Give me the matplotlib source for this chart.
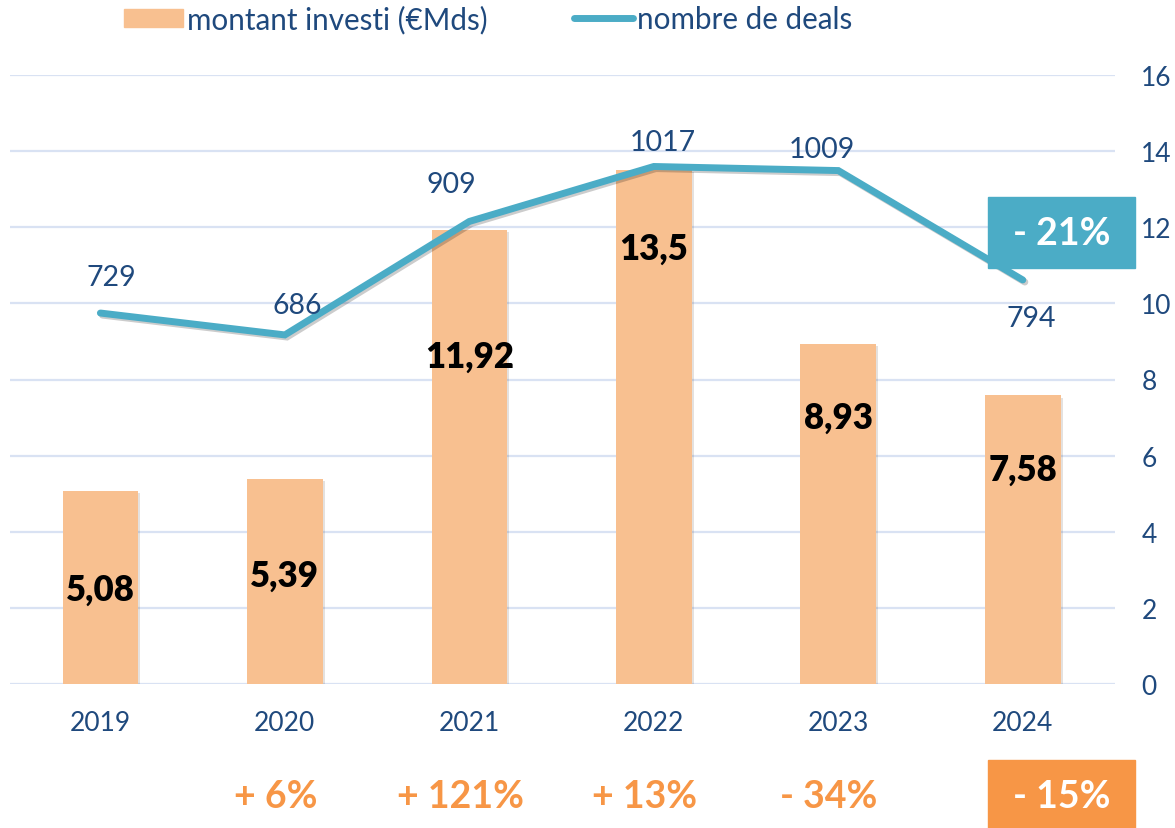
import matplotlib.pyplot as plt
import matplotlib.patheffects as pe
import matplotlib.transforms as mtransforms
from matplotlib.patches import Rectangle, Patch
from matplotlib.lines import Line2D
import numpy as np

plt.rcParams['font.family'] = ['Lato', 'DejaVu Sans']

years = ['2019', '2020', '2021', '2022', '2023', '2024']
montant = [5.08, 5.39, 11.92, 13.5, 8.93, 7.58]
montant_labels = ['5,08', '5,39', '11,92', '13,5', '8,93', '7,58']
deals = [729, 686, 909, 1017, 1009, 794]
growth = ['', '+ 6%', '+ 121%', '+ 13%', '- 34%']
growth_last = '- 15%'
deals_change = '- 21%'

# where the bar labels sit (y in bar units) and the deal label offsets (px)
bar_label_y = [2.5, 2.85, 8.6, 11.45, 7.0, 5.65]
deal_label_off = [(11, 36), (12, 30), (-18, 37), (9, 24), (-16, 22), (8, -38)]

DARK = '#1F497D'
BAR = '#F8C090'
LINE = '#4BACC6'
ORANGE = '#F79646'
GRID = '#D9E2F3'

fig = plt.figure(figsize=(11.75, 8.29), dpi=100)
ax = fig.add_axes([10/1175, 1-685/829, (1115-10)/1175, (685-76)/829])
x = np.arange(len(years))

ax.bar(x, montant, width=0.41, color=BAR, zorder=2,
       path_effects=[pe.SimplePatchShadow(offset=(1.5, -1.5), alpha=0.15), pe.Normal()])
for xi, lab, yy in zip(x, montant_labels, bar_label_y):
    ax.text(xi, yy, lab, ha='center', va='center', fontsize=25, fontweight='heavy',
            color='black', zorder=3)

ax2 = ax.twinx()
ax2.set_ylim(0, 16*74.8)
ax2.set_yticks([])
for s in ax2.spines.values():
    s.set_visible(False)

ax.set_xlim(-0.49, 5.5)
ax.set_ylim(0, 16)
ax.set_yticks(range(0, 17, 2))
ax.yaxis.tick_right()
ax.grid(axis='y', color=GRID, lw=1.6, zorder=0)
ax.set_axisbelow(True)
for s in ax.spines.values():
    s.set_visible(False)
ax.tick_params(axis='y', length=0, pad=19, labelsize=19, labelcolor=DARK)
ax.set_xticks(x)
ax.set_xticklabels(years)
ax.tick_params(axis='x', length=0, pad=19, labelsize=19, labelcolor=DARK)

ax2.plot(x, deals, color=LINE, lw=5, solid_capstyle='round', solid_joinstyle='miter',
         path_effects=[pe.SimpleLineShadow(offset=(1.5, -1.5), alpha=0.2), pe.Normal()])
for xi, d, off in zip(x, deals, deal_label_off):
    ax2.annotate(str(d), (xi, d), xytext=off, textcoords='offset pixels',
                 ha='center', va='center', fontsize=20.5, color=DARK)

# growth labels under the years
trans = mtransforms.blended_transform_factory(ax.transData, fig.transFigure)
for xi, g in zip(x, growth):
    ax.text(xi - 0.05, 1-797/829, g, transform=trans,
            ha='center', va='center', fontsize=27, fontweight='bold', color=ORANGE)

# boxed changes for 2024
fig.patches.append(Rectangle((988/1175, 1-829/829), (1135-988)/1175, (829-761)/829,
                             transform=fig.transFigure, color=ORANGE, zorder=5))
fig.text((988+1135)/2/1175, 1-797/829, growth_last, ha='center', va='center',
         fontsize=27, fontweight='bold', color='white', zorder=6)
fig.patches.append(Rectangle((988/1175, 1-269/829), (1135-988)/1175, (269-198)/829,
                             transform=fig.transFigure, color=LINE, zorder=5))
fig.text((988+1135)/2/1175, 1-234/829, deals_change, ha='center', va='center',
         fontsize=27, fontweight='bold', color='white', zorder=6)

handles = [Patch(color=BAR), Line2D([], [], color=LINE, lw=5, solid_capstyle='round')]
fig.legend(handles, ['montant investi (€Mds)', 'nombre de deals'], loc='center',
           bbox_to_anchor=(488/1175, 1-20/829), ncol=2, frameon=False, fontsize=21.3,
           labelcolor=DARK, handlelength=2.0, handleheight=0.6, handletextpad=0.15,
           columnspacing=2.9)

fig.savefig('out.png', dpi=100)
